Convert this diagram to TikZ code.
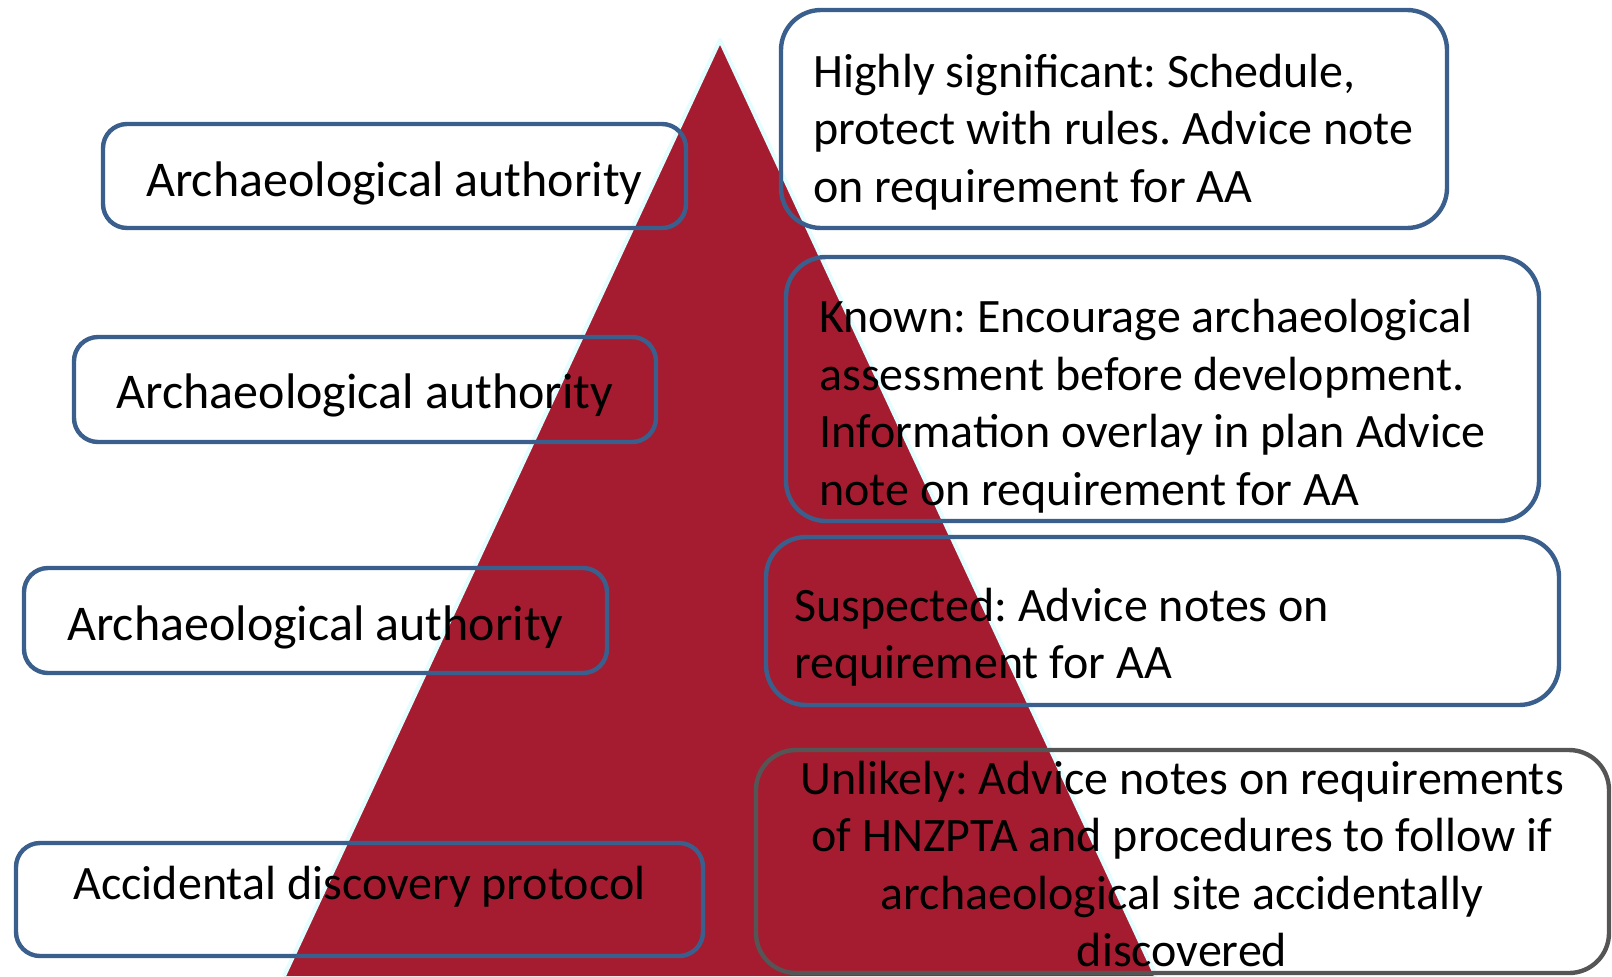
\documentclass[tikz,border=0pt]{standalone}
\usepackage{fontspec}
\setmainfont{Carlito}
\frenchspacing
\definecolor{pyrred}{HTML}{A51C30}
\definecolor{pyrglow}{HTML}{E4FDFF}
\definecolor{boxblue}{HTML}{3A5F8C}
\definecolor{boxgray}{HTML}{555555}
\begin{document}
\begin{tikzpicture}[x=0.5pt,y=-0.5pt,font=\fontsize{24}{28.8}\selectfont,
	lbox/.style={draw=boxblue,line width=2.2pt,rounded corners=12pt,inner sep=0pt},
	rbox/.style={draw=boxblue,line width=2.2pt,rounded corners=20pt,inner sep=0pt},
	ltext/.style={inner sep=0pt,font=\fontsize{25}{28.8}\selectfont},
	rtext/.style={anchor=west,align=left,inner sep=0pt}]
	\useasboundingbox (0,0) rectangle (1612,976);
	% pyramid
	\fill[pyrred] (284,976)--(720,40)--(1156,976)--cycle;
	\draw[pyrglow,line width=2pt,line join=round] (284,976)--(720,40)--(1156,976);
	% left column
	\node[lbox,minimum width=291.5pt,minimum height=52pt] (aa1) at (394.5,176) {};
	\node[ltext] (aa1txt) at (394.5,183) {Archaeological authority};
	\node[lbox,minimum width=291pt,minimum height=52.5pt] (aa2) at (365,389.5) {};
	\node[ltext] (aa2txt) at (365,395) {Archaeological authority};
	\node[lbox,minimum width=291.5pt,minimum height=52.5pt] (aa3) at (315.5,620.5) {};
	\node[ltext] (aa3txt) at (315.5,627) {Archaeological authority};
	\node[lbox,minimum width=343.5pt,minimum height=56.5pt] (adp) at (359.5,899.5) {};
	\node[inner sep=0pt] (adptxt) at (359.5,887) {Accidental discovery protocol};
	% right column
	\node[rbox,minimum width=333pt,minimum height=109pt] (high) at (1114,119) {};
	\node[rtext] (hightxt) at (813,132) {Highly significant: Schedule,\\protect with rules. Advice note\\on requirement for AA};
	\node[rbox,minimum width=376.5pt,minimum height=132pt] (known) at (1162.5,389) {};
	\node[rtext] (knowntxt) at (819,406) {Known: Encourage archaeological\\assessment before development.\\Information overlay in plan Advice\\note on requirement for AA};
	\node[rbox,minimum width=396.5pt,minimum height=84pt] (susp) at (1162.5,621) {};
	\node[rtext] (susptxt) at (794,637) {Suspected: Advice notes on\\requirement for AA};
	\node[rbox,draw=boxgray,minimum width=426.5pt,minimum height=111.5pt] (unl) at (1182.5,861.5) {};
	\node[align=center,inner sep=0pt] (unltxt) at (1182,864) {Unlikely: Advice notes on requirements\\of HNZPTA and procedures to follow if\\archaeological site accidentally\\discovered};
\end{tikzpicture}
\end{document}
